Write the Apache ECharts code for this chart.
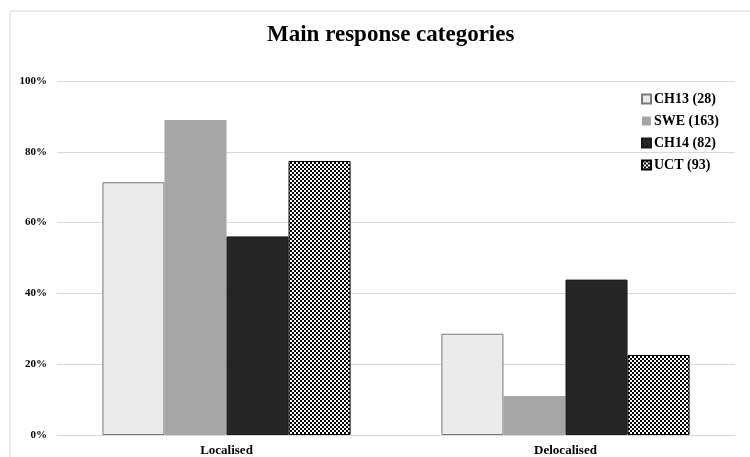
<!DOCTYPE html>
<html>
<head>
<meta charset="utf-8">
<script src="https://cdn.jsdelivr.net/npm/echarts@6/dist/echarts.min.js"></script>
<style>
  html, body { margin: 0; padding: 0; background: #fff; }
  #chart { width: 750px; height: 457px; }
</style>
</head>
<body>
<div id="chart"></div>
<script>
// Response categories and the share (%) of each group's answers
const categories = ['Localised', 'Delocalised'];
const groupNames = ['CH13 (28)', 'SWE (163)', 'CH14 (82)', 'UCT (93)'];
const ch13 = [71.4, 28.6];
const swe = [89.0, 11.0];
const ch14 = [56.1, 43.9];
const uct = [77.4, 22.6];
const yTicks = { min: 0, max: 100, step: 20 };

// Small black-dot tile used as the fill of the UCT bars
function dotTile() {
  const c = document.createElement('canvas');
  c.width = 4; c.height = 4;
  const g = c.getContext('2d');
  g.fillStyle = '#ffffff';
  g.fillRect(0, 0, 4, 4);
  g.fillStyle = '#000000';
  g.fillRect(0, 0, 2, 2);
  g.fillRect(2, 2, 2, 2);
  return c;
}
const dotPattern = { image: dotTile(), repeat: 'repeat' };

const font = 'Liberation Serif';
const chart = echarts.init(document.getElementById('chart'), null, { renderer: 'canvas' });

const seriesStyles = [
  { color: '#ebebeb', borderColor: '#7a7a7a', borderWidth: 1 },
  { color: '#a6a6a6', borderWidth: 0 },
  { color: '#262626', borderColor: '#1a1a1a', borderWidth: 1 },
  { color: dotPattern, borderColor: '#000000', borderWidth: 1 }
];
const seriesData = [ch13, swe, ch14, uct];

chart.setOption({
  animation: false,
  backgroundColor: '#ffffff',
  graphic: [{
    type: 'rect',
    shape: { x: 10, y: 11, width: 800, height: 500 },
    style: { fill: 'none', stroke: '#d6d6d6', lineWidth: 1 },
    silent: true,
    z: -1
  }],
  title: {
    text: 'Main response categories',
    left: 262,
    top: 19,
    textStyle: { fontFamily: font, fontWeight: 'bold', fontSize: 23, color: '#000' }
  },
  legend: {
    orient: 'vertical',
    left: 636,
    top: 87,
    itemWidth: 9,
    itemHeight: 9,
    itemGap: 8,
    icon: 'rect',
    textStyle: { fontFamily: font, fontWeight: 'bold', fontSize: 14, color: '#000', padding: [0, 0, 0, -2] },
    data: groupNames
  },
  grid: { left: 57, right: 15, top: 81, bottom: 20, containLabel: false },
  xAxis: {
    type: 'category',
    data: categories,
    axisLine: { show: true, lineStyle: { color: '#d9d9d9', width: 1 } },
    axisTick: { show: false },
    axisLabel: { fontFamily: font, fontWeight: 'bold', fontSize: 13, color: '#000', margin: 9 }
  },
  yAxis: {
    type: 'value',
    min: yTicks.min,
    max: yTicks.max,
    interval: yTicks.step,
    axisLine: { show: false },
    axisTick: { show: false },
    splitLine: { lineStyle: { color: '#d9d9d9', width: 1 } },
    axisLabel: { formatter: '{value}%', fontFamily: font, fontWeight: 'bold', fontSize: 11, color: '#000', margin: 10 }
  },
  series: groupNames.map((name, i) => ({
    name: name,
    type: 'bar',
    data: seriesData[i],
    barGap: '0%',
    barCategoryGap: '26.8%',
    itemStyle: seriesStyles[i]
  }))
});
</script>
</body>
</html>
